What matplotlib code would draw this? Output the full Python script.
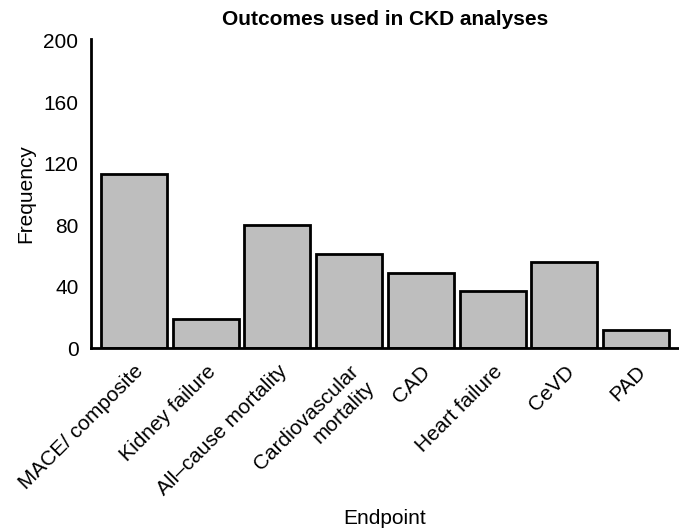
import numpy as np
import matplotlib
matplotlib.use("Agg")
import matplotlib.pyplot as plt

plt.rcParams['font.family'] = ['Liberation Sans', 'DejaVu Sans']

# data
endpoints = ["MACE/ composite", "Kidney failure", "All\u2013cause mortality",
             "Cardiovascular\nmortality", "CAD", "Heart failure", "CeVD", "PAD"]
counts = [113, 19, 80, 61, 49, 37, 56, 12]
yticks = [0, 40, 80, 120, 160, 200]

fig = plt.figure(figsize=(6.79, 5.31), dpi=100)
ax = fig.add_axes([91/679, 1 - 348/531, 1 - 91/679, (348 - 39)/531])

x = np.arange(1, len(counts) + 1)
ax.bar(x, counts, width=0.92, color="#BEBEBE", edgecolor="black", linewidth=2)

ax.set_xlim(0.4, 8.6)
ax.set_ylim(0, 201)
ax.set_yticks(yticks)
ax.set_xticks(x)
ax.set_xticklabels(endpoints, rotation=45, ha="right", va="top",
                   rotation_mode="anchor", fontsize=15, multialignment="right")
ax.tick_params(axis="both", length=0, labelsize=15)
ax.tick_params(axis="y", pad=9)
ax.tick_params(axis="x", pad=10)

for s in ["top", "right"]:
    ax.spines[s].set_visible(False)
for s in ["left", "bottom"]:
    ax.spines[s].set_linewidth(2)

ax.set_xlabel("Endpoint", fontsize=15, labelpad=7)
ax.set_ylabel("Frequency", fontsize=15, labelpad=6)
ax.set_title("Outcomes used in CKD analyses", fontsize=15, fontweight="bold", pad=10)

fig.savefig("out.png", dpi=100)
